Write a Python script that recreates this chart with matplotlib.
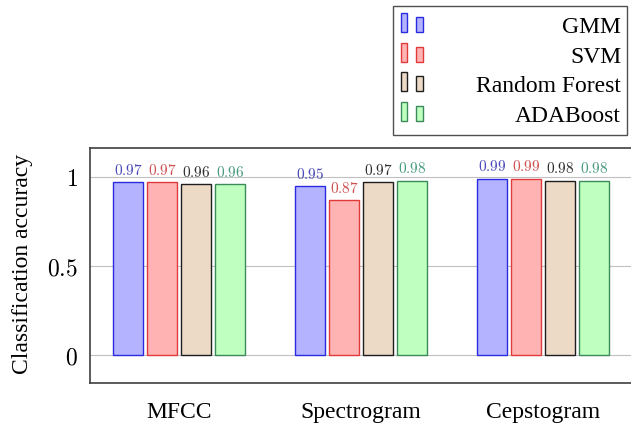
"""
Precision de classification par type de features (MFCC, spectrogramme,
cepstogramme) pour quatre classifieurs, style pgfplots.
"""
import matplotlib
matplotlib.use("Agg")
import matplotlib.pyplot as plt
import numpy as np
from matplotlib.patches import Rectangle

features = ["MFCC", "Spectrogram", "Cepstogram"]
classifiers = ["GMM", "SVM", "Random Forest", "ADABoost"]
accuracy = {
    "GMM": [0.97, 0.95, 0.99],
    "SVM": [0.97, 0.87, 0.99],
    "Random Forest": [0.96, 0.97, 0.98],
    "ADABoost": [0.96, 0.98, 0.98],
}
y_ticks = [0, 0.5, 1]

fill_colors = ["#b3b3ff", "#ffb3b3", "#ecd9c6", "#bfffbf"]
edge_colors = ["#2a2ae0", "#e03a3a", "#1e1e1e", "#3a8a5a"]
label_colors = ["#4a4ab8", "#d05050", "#303030", "#4a9a80"]

plt.rcParams["font.family"] = ["Liberation Serif", "DejaVu Serif"]
plt.rcParams["mathtext.fontset"] = "cm"

W, H = 631, 427
fig = plt.figure(figsize=(W / 100, H / 100), dpi=100)
ax = fig.add_axes([90 / W, 1 - 384 / H, 542 / W, 235 / H])

x = np.arange(len(features))
step = 0.187
width = 0.162
for i, name in enumerate(classifiers):
    xs = x + (i - 1.5) * step
    vals = accuracy[name]
    ax.bar(xs, vals, width, color=fill_colors[i], edgecolor=edge_colors[i],
           linewidth=1.0, zorder=3)
    for xv, v in zip(xs, vals):
        ax.annotate(f"${v:.2f}$", (xv, v), xytext=(0, 6), textcoords="offset points",
                    ha="center", va="baseline", fontsize=11, color=label_colors[i])

ax.set_xlim(-0.49, 2.49)
ax.set_ylim(-0.157, 1.163)
ax.set_xticks(x)
ax.set_xticklabels(features, fontsize=17)
ax.set_yticks(y_ticks)
ax.set_yticklabels([f"${t:g}$" for t in y_ticks], fontsize=17)
ax.tick_params(axis="both", length=0)
ax.tick_params(axis="x", pad=13)
ax.tick_params(axis="y", pad=9)
ax.grid(axis="y", color="#c0c0c0", linewidth=0.8, zorder=0)
for sp in ax.spines.values():
    sp.set_color("#404040")
    sp.set_linewidth(1.2)

ax.set_ylabel("Classification accuracy", fontsize=17)
ax.yaxis.set_label_coords(-0.105, 0.51)

# legende a la pgfplots : deux petites barres + texte aligne a droite
box = Rectangle((393 / W, 1 - 136 / H), 234 / W, 129 / H, transform=fig.transFigure,
                facecolor="white", edgecolor="#505050", linewidth=1.0)
fig.add_artist(box)
row_y = [33, 63, 92, 122]
for i, name in enumerate(classifiers):
    base = 1 - row_y[i] / H
    fig.add_artist(Rectangle((401 / W, base), 6 / W, 19 / H, transform=fig.transFigure,
                             facecolor=fill_colors[i], edgecolor=edge_colors[i], linewidth=1.0))
    fig.add_artist(Rectangle((416 / W, base), 7 / W, 15 / H, transform=fig.transFigure,
                             facecolor=fill_colors[i], edgecolor=edge_colors[i], linewidth=1.0))
    fig.text(621 / W, base, name, ha="right", va="baseline", fontsize=17)

fig.savefig("out.png", dpi=100)
